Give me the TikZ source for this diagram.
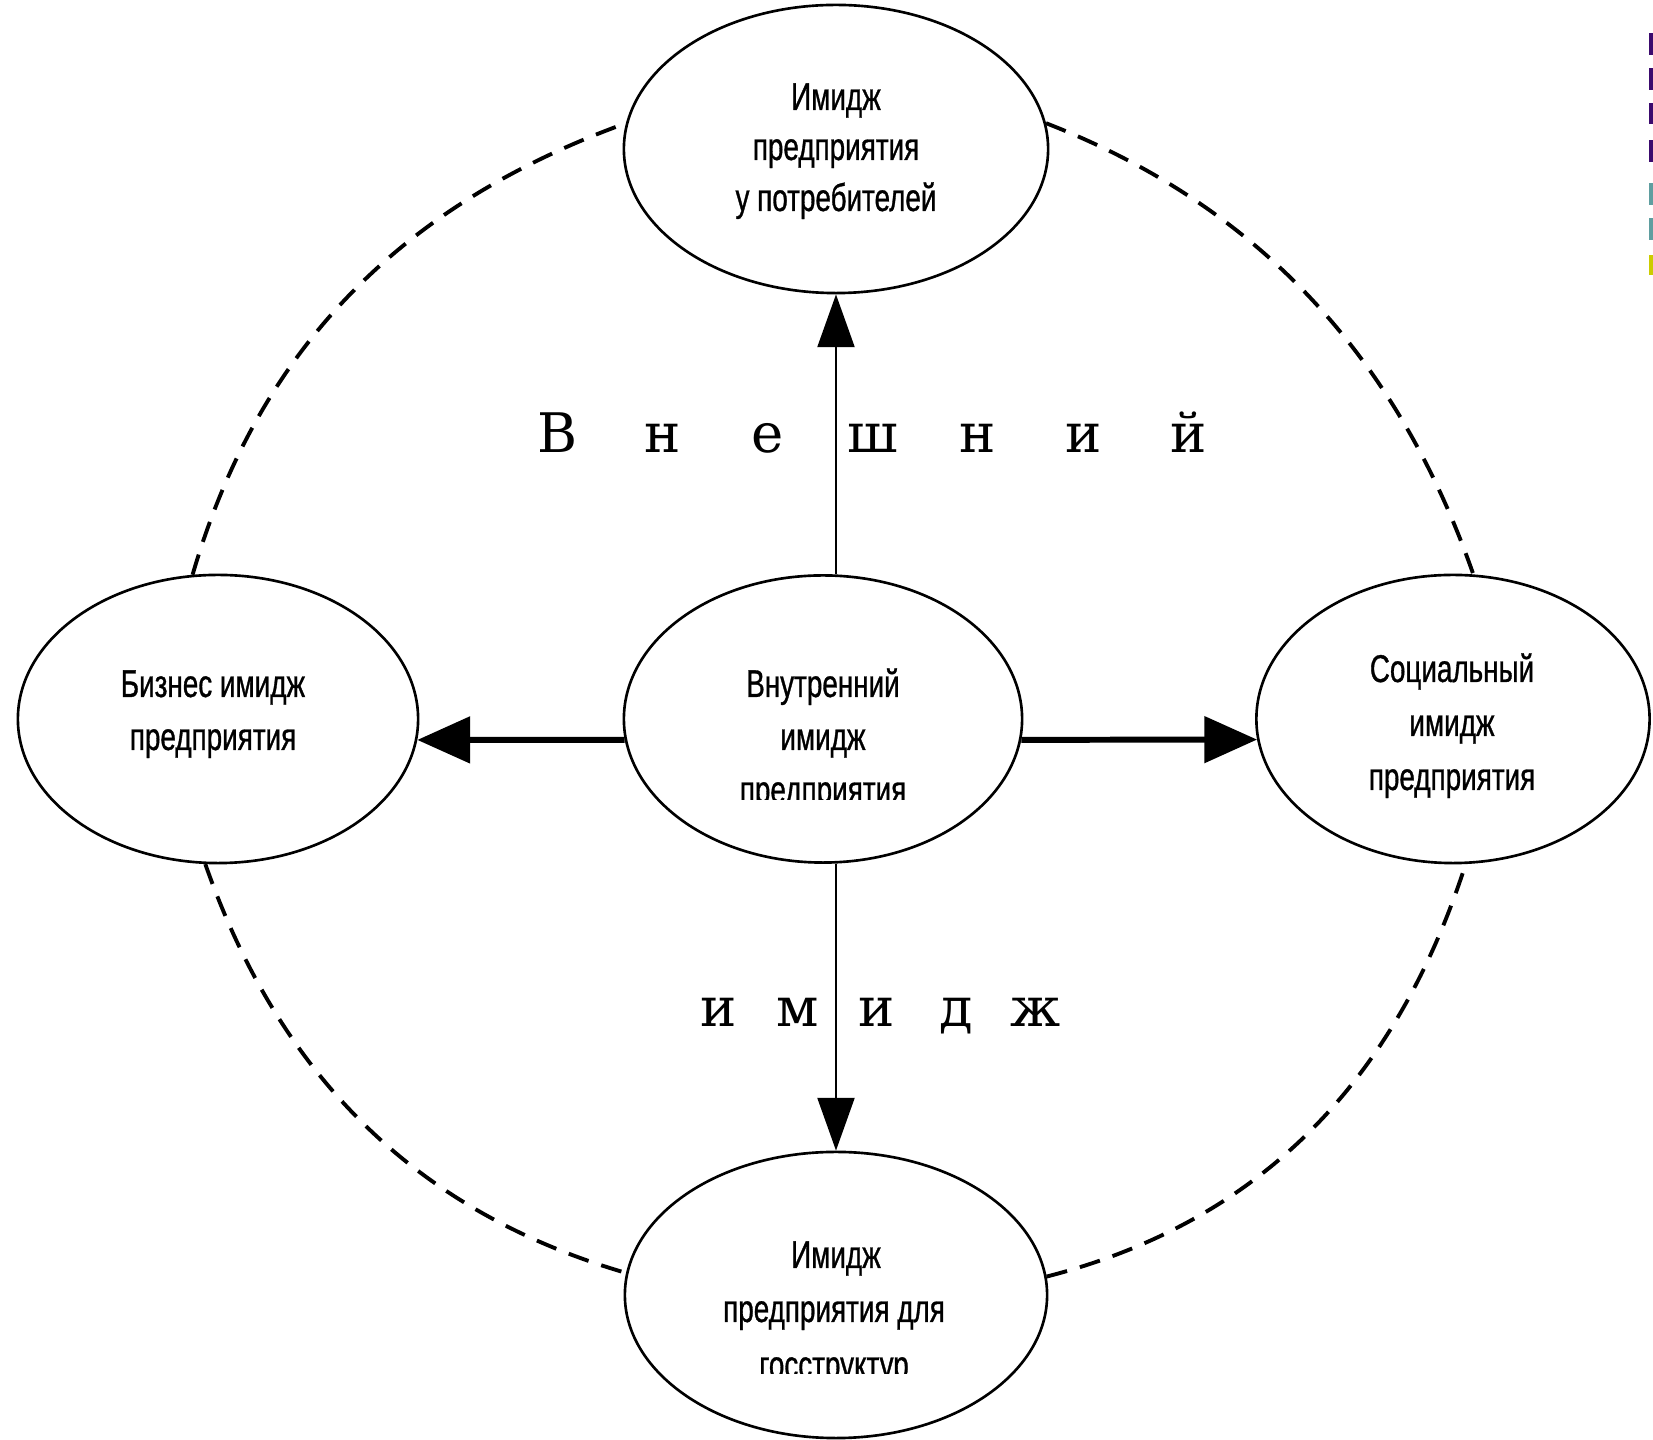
\documentclass[tikz,border=0pt]{standalone}
\usepackage{fontspec}
\setmainfont{Liberation Sans}
\newfontfamily\lab[FakeStretch=0.72,FakeBold=0.8]{Liberation Sans}
\newfontfamily\spacedfont{DejaVu Serif}
\usetikzlibrary{arrows.meta,shapes.geometric}
\definecolor{barpurple}{HTML}{3B0A6E}
\definecolor{barteal}{HTML}{5F9EA0}
\definecolor{baryellow}{HTML}{CCCC00}
\newcommand\wletter[2]{\makebox[#1]{#2}}
\begin{document}
\begin{tikzpicture}[x=0.01cm,y=-0.01cm,
  oval/.style={draw, ellipse, line width=0.75pt, inner sep=0pt},
  lbl/.style={anchor=base, inner sep=0pt, font=\lab\fontsize{11pt}{14pt}\selectfont},
  thinarrow/.style={line width=0.7pt, -{Triangle[length=15pt,width=10.5pt]}},
  thickarrow/.style={line width=1.7pt, -{Triangle[length=15pt,width=13pt]}},
  link/.style={line width=1.1pt, dash pattern=on 6pt off 3.8pt},
  big/.style={anchor=base, inner sep=0pt, font=\spacedfont\fontsize{15.5pt}{18pt}\selectfont}]

\path[use as bounding box, fill=white] (0,0) rectangle (1653,1440);

% ellipses
\node[oval, minimum width=4.24cm, minimum height=2.88cm] (t) at (836,149) {};
\node[oval, minimum width=3.98cm, minimum height=2.87cm] (c) at (823,719) {};
\node[oval, minimum width=4.00cm, minimum height=2.88cm] (l) at (218,719) {};
\node[oval, minimum width=3.93cm, minimum height=2.88cm] (r) at (1453,719) {};
\node[oval, minimum width=4.22cm, minimum height=2.86cm] (b) at (836,1295) {};

% arrows
\draw[thinarrow] (c.north -| t.south) -- (t.south);
\draw[thinarrow] (c.south -| b.north) -- (b.north);
\draw[thickarrow] (c.186) -- (l.-6);
\draw[thickarrow] (c.-6) -- (r.186);

% dashed links
\draw[link] (l.100) .. controls (258,350) and (400,205) .. (t.173);
\draw[link] (t.7) .. controls (1254,204) and (1396,353) .. (r.82);
\draw[link] (l.265) .. controls (280,1077) and (417,1212) .. (b.174.5);
\draw[link] (b.5.5) .. controls (1256,1223) and (1394,1086) .. (r.275.4);

% labels
\node[lbl] (t1) at (836,110) {Имидж};
\node[lbl] (t2) at (836,160) {предприятия};
\node[lbl] (t3) at (836,211) {у потребителей};

\node[lbl] (c1) at (823,697) {Внутренний};
\node[lbl] (c2) at (823,750) {имидж};
\begin{scope}
  \clip (600,600) rectangle (1050,800);
  \node[lbl] (c3) at (823,803) {предприятия};
\end{scope}

\node[lbl] (l1) at (213,697) {Бизнес имидж};
\node[lbl] (l2) at (213,750) {предприятия};

\node[lbl] (r1) at (1452,682) {Социальный};
\node[lbl] (r2) at (1452,736) {имидж};
\node[lbl] (r3) at (1452,790) {предприятия};

\node[lbl] (b1) at (836,1268) {Имидж};
\node[lbl] (b2) at (834,1322) {предприятия для};
\begin{scope}
  \clip (600,1200) rectangle (1050,1374);
  \node[lbl] (b3) at (834,1378) {госструктур};
\end{scope}

% spaced words
\node[big] (ext) at (873,453) {\wletter{1.05cm}{В}\wletter{1.05cm}{н}\wletter{1.05cm}{е}\wletter{1.05cm}{ш}\wletter{1.05cm}{н}\wletter{1.05cm}{и}\wletter{1.05cm}{й}};
\node[big] (img) at (877,1027) {\wletter{0.79cm}{и}\wletter{0.79cm}{м}\wletter{0.79cm}{и}\wletter{0.79cm}{д}\wletter{0.79cm}{ж}};

% side bars
\fill[barpurple] (1649,33) rectangle (1653,55);
\fill[barpurple] (1649,68) rectangle (1653,90);
\fill[barpurple] (1649,103) rectangle (1653,124);
\fill[barpurple] (1649,140) rectangle (1653,162);
\fill[barteal] (1649,183) rectangle (1653,205);
\fill[barteal] (1649,218) rectangle (1653,240);
\fill[baryellow] (1649,255) rectangle (1653,275);
\end{tikzpicture}
\end{document}
